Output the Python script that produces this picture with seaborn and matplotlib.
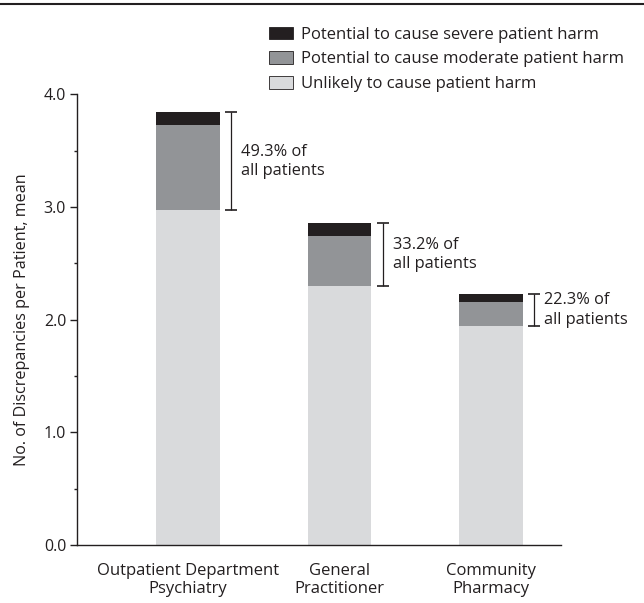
import matplotlib
matplotlib.use("Agg")
import matplotlib.pyplot as plt
from matplotlib.lines import Line2D
from matplotlib.patches import Patch
from matplotlib.ticker import MultipleLocator
import pandas as pd
import seaborn as sns

# values
settings = ["Outpatient Department\nPsychiatry", "General\nPractitioner", "Community\nPharmacy"]
unlikely = [2.97, 2.30, 1.94]
moderate = [0.76, 0.44, 0.22]
severe = [0.11, 0.12, 0.07]
share_labels = ["49.3% of\nall patients", "33.2% of\nall patients", "22.3% of\nall patients"]

legend_labels = ["Potential to cause severe patient harm",
                 "Potential to cause moderate patient harm",
                 "Unlikely to cause patient harm"]

c_severe = "#231f20"
c_moderate = "#929497"
c_unlikely = "#d9dadc"
ink = "#231f20"

df = pd.DataFrame({"setting": settings, "unlikely": unlikely,
                   "moderate": moderate, "severe": severe})
df["mod_top"] = df["unlikely"] + df["moderate"]
df["total"] = df["mod_top"] + df["severe"]

sns.set_style("ticks")
plt.rcParams["font.family"] = ["Open Sans", "DejaVu Sans"]
plt.rcParams["text.color"] = ink
plt.rcParams["axes.labelcolor"] = ink
plt.rcParams["xtick.color"] = ink
plt.rcParams["ytick.color"] = ink

fig = plt.figure(figsize=(6.44, 6.03), dpi=100)
ax = fig.add_axes([0.120, 0.0962, 0.751, 0.7474])

# stacked bars drawn as overlapping cumulative bars
for col, colr in [("total", c_severe), ("mod_top", c_moderate), ("unlikely", c_unlikely)]:
    sns.barplot(data=df, x="setting", y=col, color=colr, width=0.42,
                errorbar=None, saturation=1, linewidth=0, ax=ax)

# brackets spanning the harmful part of each bar
for i, row in df.iterrows():
    mid = (row["unlikely"] + row["total"]) / 2
    half = (row["total"] - row["unlikely"]) / 2
    ax.errorbar(i + 0.285, mid, yerr=half, color=ink, elinewidth=0.9,
                capsize=4.3, capthick=1.2)
    ax.annotate(share_labels[i], xy=(i + 0.285, mid), xytext=(7, 0),
                textcoords="offset points", ha="left", va="center",
                fontsize=11.8, linespacing=1.3, color=ink)

ax.set_xlim(-0.73, 2.46)
ax.set_ylim(0, 4.0)
ax.yaxis.set_major_locator(MultipleLocator(1.0))
ax.yaxis.set_minor_locator(MultipleLocator(0.5))
ax.set_yticklabels([f"{v:.1f}" for v in ax.get_yticks()])
ax.tick_params(axis="y", which="major", length=5, width=1, labelsize=11.5, pad=3)
ax.tick_params(axis="y", which="minor", length=2.5, width=1)
ax.tick_params(axis="x", length=0, labelsize=12, pad=13)
ax.set_xlabel("")
ax.set_ylabel("No. of Discrepancies per Patient, mean", fontsize=11.6)
ax.yaxis.set_label_coords(-0.097, 0.5)
for s in ["top", "right"]:
    ax.spines[s].set_visible(False)
for s in ["left", "bottom"]:
    ax.spines[s].set_color(ink)
    ax.spines[s].set_linewidth(1.0)

handles = [Patch(facecolor=c, edgecolor=ink, linewidth=0.6)
           for c in [c_severe, c_moderate, c_unlikely]]
ax.legend(handles, legend_labels, loc="upper left", bbox_to_anchor=(0.4177, 0.956),
          bbox_transform=fig.transFigure, frameon=False, fontsize=12,
          handlelength=1.45, handleheight=0.8, labelspacing=0.51,
          handletextpad=0.45, borderpad=0, borderaxespad=0)

fig.add_artist(Line2D([0, 1], [0.9935, 0.9935], transform=fig.transFigure,
                      color=ink, linewidth=1.5))

fig.savefig("out.png", dpi=100)
